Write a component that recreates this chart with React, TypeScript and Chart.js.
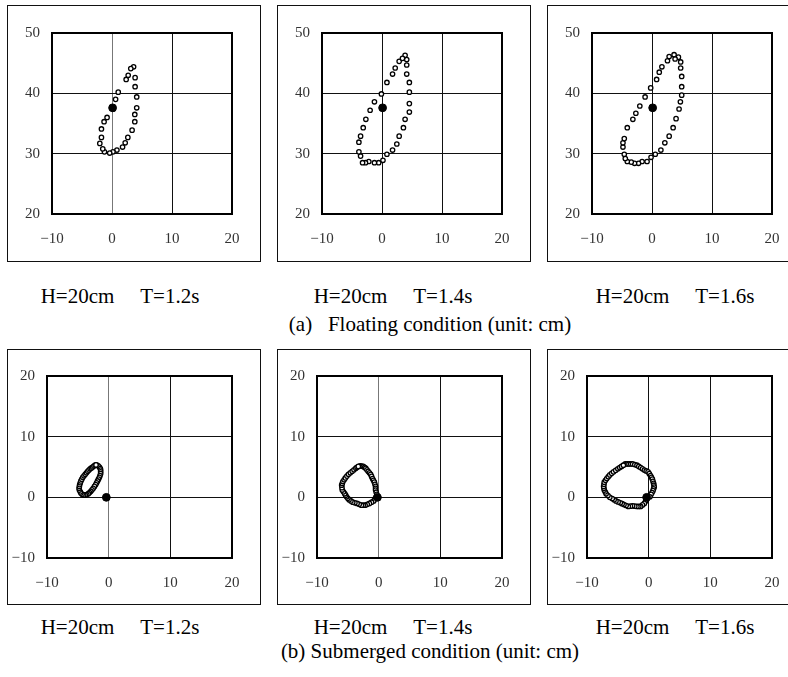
import React, { useEffect, useRef } from "react";
import { Chart, registerables } from "chart.js";

Chart.register(...registerables);

// ---------- data (unit: cm) ----------
const xTickValues = [-10, 0, 10, 20];
const floatingYTicks = [20, 30, 40, 50];
const submergedYTicks = [-10, 0, 10, 20];

const captionsTop = ["H=20cm\u2003 T=1.2s", "H=20cm\u2003 T=1.4s", "H=20cm\u2003 T=1.6s"];
const captionsBottom = ["H=20cm\u2003 T=1.2s", "H=20cm\u2003 T=1.4s", "H=20cm\u2003 T=1.6s"];
const titleFloating = "(a)\u2002 Floating condition (unit: cm)";
const titleSubmerged = "(b) Submerged condition (unit: cm)";

// Floating, T = 1.2 s
const floatT12: [number, number][] = [
  [3.6, 44.4], [3.85, 42.6], [3.85, 41.1], [4.12, 39.4], [4.12, 37.6], [3.8, 36.5],
  [3.8, 35.3], [3.35, 33.9], [2.64, 32.7], [2.2, 31.8], [1.76, 31.1], [0.82, 30.6],
  [0.16, 30.3], [-0.38, 30.1], [-1.26, 30.3], [-1.54, 30.8], [-2.03, 31.7], [-1.76, 32.7],
  [-1.76, 34.1], [-1.32, 35.3], [-0.82, 36.0], [0.2, 37.4], [0.6, 39.0], [1.04, 40.2],
  [2.36, 42.3], [2.7, 43.0], [3.13, 44.1],
];
const floatT12Centre: [number, number][] = [[0.1, 37.6]];

// Floating, T = 1.4 s
const floatT14: [number, number][] = [
  [3.85, 46.3], [4.12, 45.6], [4.12, 44.7], [4.12, 43.2], [4.56, 41.8], [4.56, 40.2],
  [4.56, 38.3], [4.56, 36.9], [3.85, 35.7], [3.57, 34.3], [2.86, 32.9], [2.47, 31.6],
  [1.76, 30.6], [0.82, 29.9], [0.16, 28.9], [-0.55, 28.5], [-1.26, 28.5], [-2.2, 28.7],
  [-2.75, 28.5], [-3.24, 28.5], [-3.57, 29.6], [-3.85, 30.3], [-3.85, 31.9], [-3.57, 32.9],
  [-3.13, 34.3], [-2.69, 35.7], [-1.98, 37.2], [-1.26, 38.6], [-0.1, 39.9], [0.82, 41.8],
  [1.76, 43.2], [2.2, 44.2], [2.86, 45.3], [3.41, 45.8],
];
const floatT14Centre: [number, number][] = [[0.1, 37.6]];

// Floating, T = 1.6 s
const floatT16: [number, number][] = [
  [3.68, 46.4], [4.4, 46.0], [4.78, 45.2], [4.78, 44.2], [4.95, 42.8], [4.95, 41.1],
  [4.95, 39.7], [4.73, 38.6], [4.51, 37.4], [4.01, 35.8], [3.52, 34.3], [2.86, 32.9],
  [2.14, 31.8], [1.48, 30.6], [0.55, 29.9], [-0.16, 29.4], [-0.82, 28.7], [-1.65, 28.7],
  [-2.25, 28.4], [-2.91, 28.4], [-3.46, 28.6], [-4.12, 28.7], [-4.45, 29.2], [-4.62, 29.9],
  [-4.84, 31.1], [-4.84, 31.8], [-4.62, 32.5], [-4.12, 34.3], [-3.19, 35.7], [-2.69, 36.7],
  [-2.03, 37.9], [-1.15, 39.4], [-0.22, 40.9], [0.77, 42.3], [1.21, 43.5], [1.65, 44.4],
  [2.58, 45.4], [2.86, 46.1], [3.85, 45.7],
];
const floatT16Centre: [number, number][] = [[0.11, 37.6]];

// Submerged, T = 1.2 s
const subT12: [number, number][] = [
  [-1.9, 5.3], [-1.7, 5.2], [-1.5, 5.0], [-1.35, 4.75], [-1.3, 4.5], [-1.3, 4.2],
  [-1.3, 3.9], [-1.4, 3.6], [-1.5, 3.3], [-1.65, 3.0], [-1.8, 2.7], [-1.95, 2.4],
  [-2.1, 2.1], [-2.3, 1.8], [-2.5, 1.5], [-2.7, 1.25], [-2.9, 1.0], [-3.1, 0.8],
  [-3.3, 0.6], [-3.55, 0.45], [-3.8, 0.4], [-4.05, 0.4], [-4.3, 0.5], [-4.5, 0.7],
  [-4.6, 0.9], [-4.75, 1.2], [-4.8, 1.5], [-4.75, 1.8], [-4.7, 2.1], [-4.6, 2.4],
  [-4.5, 2.7], [-4.35, 3.0], [-4.2, 3.3], [-4.0, 3.55], [-3.8, 3.8], [-3.6, 4.05],
  [-3.4, 4.3], [-3.2, 4.5], [-3.0, 4.7], [-2.8, 4.85], [-2.6, 5.0], [-2.4, 5.15],
  [-2.2, 5.3], [-2.05, 5.35],
];
const subT12Centre: [number, number][] = [[-0.38, 0]];

// Submerged, T = 1.4 s
const subT14: [number, number][] = [
  [-3.0, 5.2], [-2.75, 5.15], [-2.5, 5.1], [-2.3, 4.95], [-2.1, 4.8], [-1.9, 4.55],
  [-1.7, 4.3], [-1.5, 4.05], [-1.3, 3.8], [-1.15, 3.45], [-1.0, 3.1], [-0.85, 2.8],
  [-0.7, 2.5], [-0.6, 2.15], [-0.5, 1.8], [-0.5, 1.5], [-0.5, 1.2], [-0.4, 0.85],
  [-0.3, 0.5], [-0.4, 0.1], [-0.6, -0.25], [-0.8, -0.6], [-1.15, -0.8], [-1.5, -1.0],
  [-1.85, -1.15], [-2.2, -1.3], [-2.5, -1.3], [-2.8, -1.3], [-3.15, -1.15], [-3.5, -1.0],
  [-3.85, -0.9], [-4.2, -0.8], [-4.5, -0.6], [-4.8, -0.4], [-5.0, -0.15], [-5.2, 0.1],
  [-5.35, 0.35], [-5.5, 0.6], [-5.7, 0.9], [-5.9, 1.2], [-5.95, 1.6], [-6.0, 2.0],
  [-5.9, 2.3], [-5.8, 2.6], [-5.6, 2.9], [-5.4, 3.2], [-5.15, 3.5], [-4.9, 3.8],
  [-4.6, 4.05], [-4.3, 4.3], [-4.0, 4.55], [-3.7, 4.8], [-3.5, 4.95], [-3.3, 5.1],
];
const subT14Centre: [number, number][] = [[-0.2, 0]];

// Submerged, T = 1.6 s
const subT16: [number, number][] = [
  [-3.8, 5.5], [-3.5, 5.5], [-3.2, 5.5], [-2.9, 5.5], [-2.6, 5.5], [-2.25, 5.4],
  [-1.9, 5.3], [-1.6, 5.1], [-1.3, 4.9], [-1.0, 4.7], [-0.7, 4.5], [-0.4, 4.35],
  [-0.1, 4.2], [0.1, 3.9], [0.3, 3.6], [0.45, 3.3], [0.6, 3.0], [0.7, 2.65],
  [0.8, 2.3], [0.85, 2.0], [0.9, 1.7], [0.8, 1.4], [0.7, 1.1], [0.55, 0.8],
  [0.4, 0.5], [0.2, 0.1], [-0.3, -0.3], [-0.5, -0.65], [-0.7, -1.0], [-1.0, -1.25],
  [-1.3, -1.5], [-1.6, -1.5], [-1.9, -1.5], [-2.25, -1.45], [-2.6, -1.4], [-2.95, -1.45],
  [-3.3, -1.5], [-3.65, -1.35], [-4.0, -1.2], [-4.3, -1.05], [-4.6, -0.9], [-4.95, -0.75],
  [-5.3, -0.6], [-5.6, -0.4], [-5.9, -0.2], [-6.3, 0.0], [-6.6, 0.3], [-6.9, 0.6],
  [-7.05, 0.9], [-7.2, 1.2], [-7.25, 1.5], [-7.3, 1.8], [-7.25, 2.15], [-7.2, 2.5],
  [-7.0, 2.8], [-6.8, 3.1], [-6.55, 3.4], [-6.3, 3.7], [-6.0, 3.95], [-5.7, 4.2],
  [-5.35, 4.45], [-5.0, 4.7], [-4.7, 4.9], [-4.4, 5.1], [-4.1, 5.3],
];
const subT16Centre: [number, number][] = [[-0.33, 0]];

// ---------- layout ----------
const BOX_LEFTS = [7, 277, 547];
const CAPTION_CX = [120, 393, 675];
const TOP_BOX = { top: 5, width: 254, height: 257, axisW: 45, axisH: 48, padTop: 28, padRight: 29 };
const BOT_BOX = { top: 349, width: 254, height: 256, axisW: 40, axisH: 47, padTop: 27, padRight: 29 };
const GREY_ZERO = [[true, false, false], [true, true, false]];

const FONT_SERIF = "'Liberation Serif', 'Times New Roman', serif";

const frame = {
  id: "frame",
  afterDraw(chart: any) {
    const { ctx, chartArea } = chart;
    ctx.save();
    ctx.strokeStyle = "#000";
    ctx.lineWidth = 2;
    ctx.strokeRect(chartArea.left, chartArea.top, chartArea.right - chartArea.left, chartArea.bottom - chartArea.top);
    ctx.restore();
  },
};

function fmt(v: number) {
  return v < 0 ? "\u2212" + Math.abs(v) : String(v);
}

type PanelProps = {
  left: number;
  box: typeof TOP_BOX;
  points: [number, number][];
  centre: [number, number][];
  yTicks: number[];
  greyZero: boolean;
};

function Panel({ left, box, points, centre, yTicks, greyZero }: PanelProps) {
  const ref = useRef<HTMLCanvasElement | null>(null);
  useEffect(() => {
    if (!ref.current) return;
    const toXY = (p: [number, number][]) => p.map(([x, y]) => ({ x, y }));
    const chart = new Chart(ref.current, {
      type: "scatter",
      data: {
        datasets: [
          {
            data: toXY(centre),
            pointRadius: 3.9,
            pointBackgroundColor: "#000",
            pointBorderColor: "#000",
            pointBorderWidth: 1,
          },
          {
            data: toXY(points),
            pointRadius: 2.2,
            pointBackgroundColor: "#fff",
            pointBorderColor: "#000",
            pointBorderWidth: 1.3,
          },
        ],
      },
      options: {
        animation: false,
        responsive: false,
        events: [],
        layout: { padding: { top: box.padTop, right: box.padRight, left: 0, bottom: 0 } },
        plugins: { legend: { display: false }, tooltip: { enabled: false } },
        scales: {
          x: {
            type: "linear",
            min: xTickValues[0],
            max: xTickValues[xTickValues.length - 1],
            afterBuildTicks: (s: any) => {
              s.ticks = xTickValues.map((v) => ({ value: v }));
            },
            afterFit: (s: any) => {
              s.height = box.axisH;
            },
            grid: {
              color: (c: any) => (greyZero && c.tick && c.tick.value === 0 ? "#777" : "#111"),
              lineWidth: 1,
              drawTicks: false,
            },
            border: { display: false },
            ticks: {
              padding: 16,
              color: "#333",
              font: { family: FONT_SERIF, size: 15 },
              callback: (v: any) => fmt(Number(v)),
              maxRotation: 0,
            },
          },
          y: {
            type: "linear",
            min: yTicks[0],
            max: yTicks[yTicks.length - 1],
            afterBuildTicks: (s: any) => {
              s.ticks = yTicks.map((v) => ({ value: v }));
            },
            afterFit: (s: any) => {
              s.width = box.axisW;
            },
            grid: { color: "#111", lineWidth: 1, drawTicks: false },
            border: { display: false },
            ticks: {
              padding: 12,
              color: "#333",
              font: { family: FONT_SERIF, size: 15 },
              callback: (v: any) => fmt(Number(v)),
            },
          },
        },
      },
      plugins: [frame],
    });
    return () => chart.destroy();
  }, []);

  return (
    <div
      style={{
        position: "absolute",
        left,
        top: box.top,
        width: box.width,
        height: box.height,
        background: "#fff",
      }}
    >
      <canvas ref={ref} width={box.width} height={box.height} style={{ position: "absolute", left: 0, top: 0 }} />
      <div
        style={{
          position: "absolute",
          inset: 0,
          border: "1px solid #111",
          boxSizing: "border-box",
          pointerEvents: "none",
        }}
      />
    </div>
  );
}

function Caption({ text, cx, cy, size }: { text: string; cx: number; cy: number; size: number }) {
  return (
    <div
      style={{
        position: "absolute",
        left: cx - 250,
        top: cy - size * 0.6,
        width: 500,
        textAlign: "center",
        fontFamily: FONT_SERIF,
        fontSize: size,
        lineHeight: `${size * 1.2}px`,
        color: "#000",
        whiteSpace: "pre",
      }}
    >
      {text}
    </div>
  );
}

export default function App() {
  const topData = [floatT12, floatT14, floatT16];
  const topCentres = [floatT12Centre, floatT14Centre, floatT16Centre];
  const botData = [subT12, subT14, subT16];
  const botCentres = [subT12Centre, subT14Centre, subT16Centre];
  return (
    <div
      style={{
        position: "absolute",
        left: 0,
        top: 0,
        width: 788,
        height: 677,
        overflow: "hidden",
        background: "#fff",
      }}
    >
      {BOX_LEFTS.map((l, i) => (
        <Panel key={"t" + i} left={l} box={TOP_BOX} points={topData[i]} centre={topCentres[i]} yTicks={floatingYTicks} greyZero={GREY_ZERO[0][i]} />
      ))}
      {BOX_LEFTS.map((l, i) => (
        <Panel key={"b" + i} left={l} box={BOT_BOX} points={botData[i]} centre={botCentres[i]} yTicks={submergedYTicks} greyZero={GREY_ZERO[1][i]} />
      ))}
      {CAPTION_CX.map((cx, i) => (
        <Caption key={"ct" + i} text={captionsTop[i]} cx={cx} cy={297} size={21} />
      ))}
      <Caption text={titleFloating} cx={430} cy={325} size={21} />
      {CAPTION_CX.map((cx, i) => (
        <Caption key={"cb" + i} text={captionsBottom[i]} cx={cx} cy={628} size={21} />
      ))}
      <Caption text={titleSubmerged} cx={430} cy={652} size={21} />
    </div>
  );
}
